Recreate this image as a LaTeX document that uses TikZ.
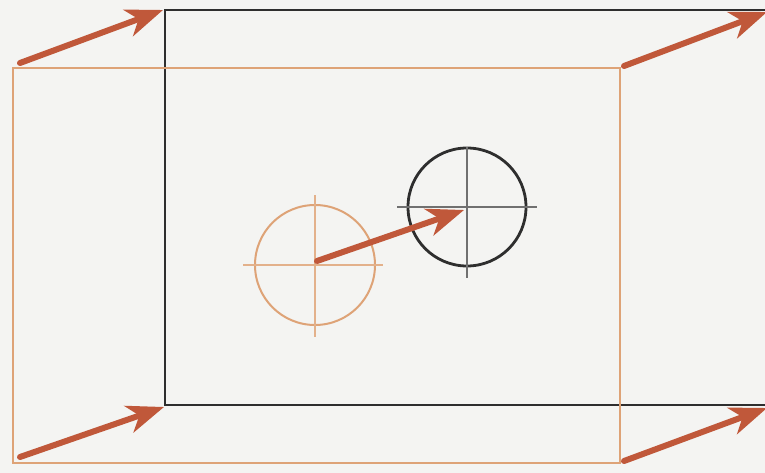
\documentclass[tikz,border=0pt]{standalone}
\usetikzlibrary{arrows.meta}
\definecolor{bg}{HTML}{F4F4F2}
\definecolor{rust}{HTML}{C0583A}
\definecolor{peach}{HTML}{DEA377}
\definecolor{darkline}{HTML}{2E2E2E}
\definecolor{crossgray}{HTML}{707070}
\tikzset{
  movearrow/.style={draw=rust, line width=6pt, line cap=round,
    -{Stealth[length=37pt 0 0, width=28pt 0 0, inset=11pt 0 0]}},
  oldframe/.style={draw=peach, line width=2pt},
  newframe/.style={draw=darkline, line width=2.6pt},
  oldcirc/.style={draw=peach, line width=2pt},
  newcirc/.style={draw=darkline, line width=2.8pt},
  oldcross/.style={draw=peach!85, line width=1.3pt},
  newcross/.style={draw=crossgray, line width=1.3pt}
}
\begin{document}
\begin{tikzpicture}[x=1pt, y=-1pt]
\useasboundingbox (0,0) rectangle (765,473);
\fill[bg] (0,0) rectangle (765,473);
% new (black) frame, cut off at the right
\draw[newframe] (775,10) -- (165,10) -- (165,405) -- (775,405);
% old (orange) frame
\draw[oldframe] (13,68) rectangle (620,463);
% frame corners
\coordinate (oTL) at (20,63);
\coordinate (nTL) at (163,10);
\coordinate (oTR) at (624,66);
\coordinate (nTR) at (767,12);
\coordinate (oBL) at (20,457);
\coordinate (nBL) at (164,407);
\coordinate (oBR) at (624,461);
\coordinate (nBR) at (767,408);
% old circle with crosshair
\coordinate (oc) at (315,265);
\draw[oldcirc] (oc) circle (60);
\draw[oldcross] (243,265) -- (383,265);
\draw[oldcross] (315,195) -- (315,337);
% new circle with crosshair
\coordinate (nc) at (467,207);
\draw[newcirc] (nc) circle (59);
\draw[newcross] (397,207) -- (537,207);
\draw[newcross] (467,147) -- (467,278);
% arrows
\coordinate (mstart) at (317,261);
\coordinate (mend) at (464,210);
\draw[movearrow] (oTL) -- (nTL);
\draw[movearrow] (oTR) -- (nTR);
\draw[movearrow] (oBL) -- (nBL);
\draw[movearrow] (oBR) -- (nBR);
\draw[movearrow] (mstart) -- (mend);
\end{tikzpicture}
\end{document}
